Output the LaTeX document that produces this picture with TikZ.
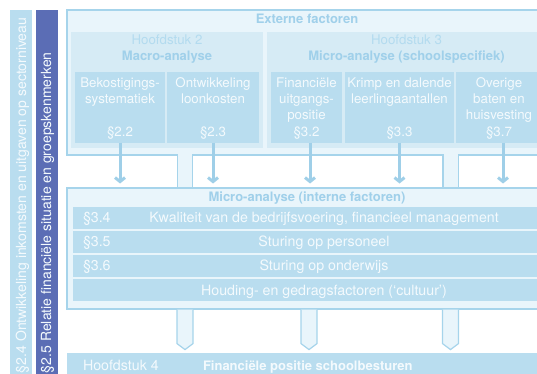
\documentclass[tikz,border=0pt]{standalone}
\usepackage{fontspec}
\setmainfont{TeX Gyre Heros}
\usetikzlibrary{arrows.meta,calc}
\definecolor{pale}{HTML}{E9F5FB}
\definecolor{midf}{HTML}{D6EBF5}
\definecolor{cell}{HTML}{B9DDEF}
\definecolor{edge}{HTML}{A6D4EB}
\definecolor{arrc}{HTML}{9FCFE8}
\definecolor{headc}{HTML}{A0D0EA}
\definecolor{softc}{HTML}{B3DBEF}
\definecolor{darkbar}{HTML}{5B6DB5}
\definecolor{txtw}{HTML}{F4FAFD}
\begin{document}
\begin{tikzpicture}[x=1pt,y=-1pt,
  every node/.style={inner sep=0pt,outer sep=0pt},
  boxat/.style={anchor=north west,rectangle},
  outerbox/.style={boxat,fill=pale,draw=edge,line width=1.2pt},
  groupbox/.style={boxat,fill=midf},
  cellbox/.style={boxat,fill=cell},
  stem/.style={draw=edge,line width=1.2pt,double=pale,double distance=14pt},
  feed/.style={draw=arrc,line width=3pt,-{Straight Barb[length=4pt,width=10pt]},shorten >=4.5pt},
  penta/.style={draw=edge,line width=1.2pt,fill=pale},
  fs/.style={font=\fontsize{13.3}{16.3}\selectfont},
  fr/.style={font=\fontsize{14.2}{17}\selectfont},
  fv/.style={font=\fontsize{14}{17}\selectfont},
  fb/.style={font=\fontsize{13}{16}\selectfont\bfseries},
  celltxt/.style={fs,text=txtw,anchor=base},
  rowtxt/.style={fr,text=txtw,anchor=base},
  ]
\useasboundingbox (0,0) rectangle (537,374);
\clip (0,0) rectangle (537,374);
% side bars
\node[cellbox,minimum width=22pt,minimum height=380pt] (bar1) at (10,10) {};
\node[boxat,fill=darkbar,minimum width=22pt,minimum height=380pt] (bar2) at (36,10) {};
\node[fv,text=txtw,rotate=90,anchor=base west] (bar1t) at (26,373) {§2.4 Ontwikkeling inkomsten en uitgaven op sectorniveau};
\node[fv,text=txtw,rotate=90,anchor=base west] (bar2t) at (51,373) {§2.5 Relatie financiële situatie en groepskenmerken};
% external factors
\node[outerbox,minimum width=500pt,minimum height=145pt] (ext) at (67,10) {};
\node[fb,text=headc,anchor=base] (extt) at (307,23.3) {Externe factoren};
\node[groupbox,minimum width=192pt,minimum height=116pt] (h2) at (71,32) {};
\node[groupbox,minimum width=290pt,minimum height=116pt] (h3) at (267,32) {};
\node[fs,text=softc,anchor=base] (h2a) at (167,45) {Hoofdstuk 2};
\node[fb,text=headc,anchor=base] (h2b) at (167,60.7) {Macro-analyse};
\node[fs,text=softc,anchor=base] (h3a) at (406.5,45) {Hoofdstuk 3};
\node[fb,text=headc,anchor=base] (h3b) at (406.5,60.7) {Micro-analyse (schoolspecifiek)};
% cells
\node[cellbox,minimum width=90pt,minimum height=71pt] (bek) at (75,72) {};
\node[cellbox,minimum width=92pt,minimum height=71pt] (ont) at (167,72) {};
\node[cellbox,minimum width=71pt,minimum height=71pt] (fin) at (271,72) {};
\node[cellbox,minimum width=109pt,minimum height=71pt] (kri) at (345,72) {};
\node[cellbox,minimum width=86pt,minimum height=71pt] (ove) at (456,72) {};
\node[celltxt] (bekt) at (120,87.3) {\parbox[t]{90pt}{\centering Bekostigings-\\systematiek}};
\node[celltxt] (ontt) at (213,87.3) {\parbox[t]{92pt}{\centering Ontwikkeling\\loonkosten}};
\node[celltxt] (fint) at (306.5,87.3) {\parbox[t]{71pt}{\centering Financiële\\uitgangs-\\positie}};
\node[celltxt] (krit) at (399.5,87.3) {\parbox[t]{109pt}{\centering Krimp en dalende\\leerlingaantallen}};
\node[celltxt] (ovet) at (499,87.3) {\parbox[t]{86pt}{\centering Overige\\baten en\\huisvesting}};
\node[celltxt] (bekn) at (120,136) {§2.2};
\node[celltxt] (ontn) at (213,136) {§2.3};
\node[celltxt] (finn) at (306.5,136) {§3.2};
\node[celltxt] (krin) at (399.5,136) {§3.3};
\node[celltxt] (oven) at (499,136) {§3.7};
% internal factors
\node[outerbox,minimum width=520pt,minimum height=121pt] (mid) at (67,188) {};
\node[fb,text=headc,anchor=base] (midt) at (307,201.7) {Micro-analyse (interne factoren)};
\node[cellbox,minimum width=510pt,minimum height=22pt] (r1) at (73,207) {};
\node[cellbox,minimum width=510pt,minimum height=22pt] (r2) at (73,231) {};
\node[cellbox,minimum width=510pt,minimum height=22pt] (r3) at (73,255) {};
\node[cellbox,minimum width=510pt,minimum height=22pt] (r4) at (73,279) {};
\node[rowtxt,anchor=base west] (r1a) at (83,222) {§3.4};
\node[rowtxt] (r1b) at (324,222) {Kwaliteit van de bedrijfsvoering, financieel management};
\node[rowtxt,anchor=base west] (r2a) at (83,246) {§3.5};
\node[rowtxt] (r2b) at (324,246) {Sturing op personeel};
\node[rowtxt,anchor=base west] (r3a) at (83,270) {§3.6};
\node[rowtxt] (r3b) at (324,270) {Sturing op onderwijs};
\node[rowtxt] (r4b) at (324,295) {Houding- en gedragsfactoren (‘cultuur’)};
% stems between the two areas
\coordinate (s1) at (185,0);
\coordinate (s2) at (450.5,0);
\draw[stem] ([yshift=1pt]ext.south -| s1) -- ([yshift=0.6pt]mid.north -| s1);
\draw[stem] ([yshift=1pt]ext.south -| s2) -- ([yshift=0.6pt]mid.north -| s2);
% feeding arrows
\draw[feed] (bek.south) -- (bek.south |- mid.north);
\draw[feed] (ont.south) -- (ont.south |- mid.north);
\draw[feed] ([xshift=3.5pt]fin.south) -- ([xshift=3.5pt]fin.south |- mid.north);
\draw[feed] (kri.south) -- (kri.south |- mid.north);
\draw[feed] ([xshift=4pt]ove.south) -- ([xshift=4pt]ove.south |- mid.north);
% chapter 4
\node[cellbox,minimum width=520pt,minimum height=40pt] (ch4) at (67,353) {};
\node[fr,text=txtw,anchor=base west] (h4a) at (83,370) {Hoofdstuk 4};
\node[fb,text=txtw,anchor=base west] (h4b) at (203,370) {Financiële positie schoolbesturen};
% output arrows
\coordinate (p1) at (185,0);
\coordinate (p2) at (309,0);
\coordinate (p3) at (450.5,0);
\foreach \p in {p1,p2,p3}{
  \filldraw[penta] ($(mid.south -| \p)+(-8,0.6)$) -- ++(0,34) -- ++(8,6) -- ++(8,-6) -- ++(0,-34);
}
\end{tikzpicture}
\end{document}
